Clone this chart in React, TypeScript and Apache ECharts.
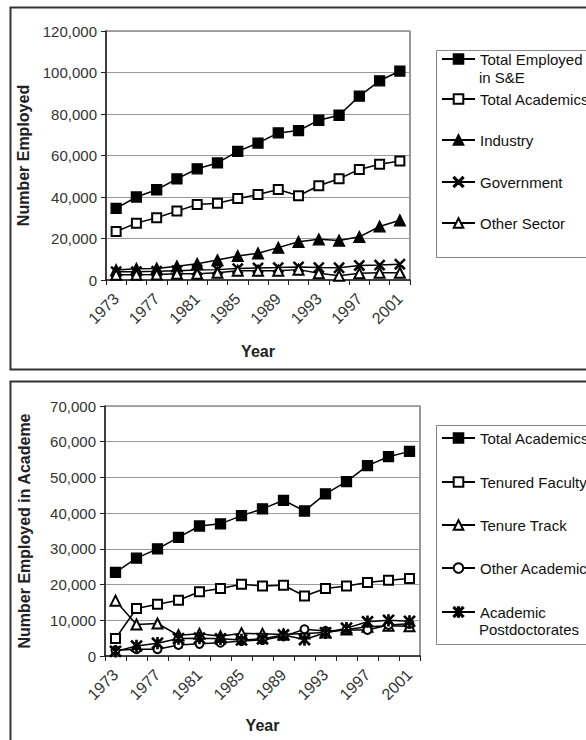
import React, { useEffect, useRef } from 'react';
import * as echarts from 'echarts';

// ---------- data ----------
const years = ['1973', '1975', '1977', '1979', '1981', '1983', '1985', '1987', '1989', '1991', '1993', '1995', '1997', '1999', '2001'];

// top panel: employment by sector
const totalSE = [34500, 40000, 43500, 48700, 53600, 56400, 62000, 66000, 70900, 72000, 77000, 79400, 88600, 96000, 100700];
const totalAcademics = [23400, 27400, 30000, 33200, 36400, 37000, 39300, 41200, 43600, 40600, 45400, 48800, 53300, 55800, 57300];
const industry = [4800, 5400, 5600, 6600, 7800, 9600, 11600, 12900, 15600, 18400, 19600, 19000, 20800, 25800, 28800];
const government = [4000, 4000, 4200, 4500, 4800, 5000, 5500, 5800, 6000, 6300, 6000, 5900, 7000, 7200, 7600];
const otherSector = [2500, 2500, 2600, 3000, 3000, 3500, 4500, 4500, 4500, 5000, 3200, 2000, 3200, 3500, 3500];

// bottom panel: academe
const tenuredFaculty = [4900, 13300, 14500, 15600, 18000, 18900, 20100, 19600, 19800, 16800, 18900, 19600, 20600, 21200, 21700];
const tenureTrack = [15500, 8800, 9100, 5800, 6200, 5500, 6400, 6200, 6000, 6300, 6600, 7400, 8200, 8500, 8300];
const otherAcademic = [1600, 1900, 1900, 3100, 3400, 3700, 4200, 4500, 5500, 7500, 7000, 7300, 7300, 8700, 9000];
const postdocs = [1300, 2800, 3600, 4900, 5000, 4800, 4500, 4800, 5900, 4600, 6500, 7800, 9600, 10000, 9700];

const topNames = ['Total Employed in S&E', 'Total Academics', 'Industry', 'Government', 'Other Sector'];
const bottomNames = ['Total Academics', 'Tenured Faculty', 'Tenure Track', 'Other Academic', 'Academic Postdoctorates'];

// ---------- styles ----------
const FONT = '"Liberation Sans", Arial, Helvetica, sans-serif';
const X_PATH = 'path://M1.85,0.15L19.85,18.15L18.15,19.85L0.15,1.85ZM19.85,1.85L1.85,19.85L0.15,18.15L18.15,0.15Z';
const STAR_PATH = 'path://M1.85,0.15L19.85,18.15L18.15,19.85L0.15,1.85ZM19.85,1.85L1.85,19.85L0.15,18.15L18.15,0.15ZM8.8,0L11.2,0L11.2,20L8.8,20Z';

function lineSeries(name: string, data: number[], symbol: string, size: number) {
  return {
    type: 'line',
    name,
    data,
    symbol,
    symbolSize: size,
    showAllSymbol: true,
    lineStyle: { color: '#000', width: 1.5 },
    itemStyle: { color: '#000', borderColor: '#000', borderWidth: 1.3 },
    emphasis: { disabled: true },
  };
}

function legendItem(name: string, cy: number, label: string) {
  return {
    data: [name],
    left: 441,
    top: cy - 8,
    orient: 'horizontal',
    padding: 0,
    itemWidth: 33,
    itemHeight: 12,
    selectedMode: false,
    formatter: () => label,
    textStyle: { fontSize: 15, lineHeight: 16, color: '#111', fontFamily: FONT },
  };
}

function fmt(v: number) {
  return v.toLocaleString('en-US');
}

function baseOption(cfg: {
  grid: any;
  yMax: number;
  yInterval: number;
  yName: string;
  yNameGap: number;
  xNameGap: number;
  series: any[];
  legends: any[];
  graphic: any[];
}) {
  return {
    animation: false,
    backgroundColor: '#fff',
    textStyle: { fontFamily: FONT },
    grid: { ...cfg.grid, show: true, borderColor: '#555', borderWidth: 1.2, containLabel: false },
    xAxis: {
      type: 'category',
      data: years,
      boundaryGap: true,
      name: 'Year',
      nameLocation: 'middle',
      nameGap: cfg.xNameGap,
      nameTextStyle: { fontSize: 16, fontWeight: 'bold', color: '#222', fontFamily: FONT },
      axisLine: { lineStyle: { color: '#222', width: 1.5 } },
      axisTick: { show: true, interval: 0, length: 5, lineStyle: { color: '#222' } },
      axisLabel: { interval: 1, rotate: 45, fontSize: 16, color: '#333', margin: 16, fontFamily: FONT },
      splitLine: { show: false },
    },
    yAxis: {
      type: 'value',
      min: 0,
      max: cfg.yMax,
      interval: cfg.yInterval,
      name: cfg.yName,
      nameLocation: 'middle',
      nameGap: cfg.yNameGap,
      nameTextStyle: { fontSize: 16, fontWeight: 'bold', color: '#222', fontFamily: FONT },
      axisLine: { show: true, lineStyle: { color: '#222', width: 1.5 } },
      axisTick: { show: true, length: 5, lineStyle: { color: '#222' } },
      axisLabel: { fontSize: 15, color: '#333', margin: 9, formatter: fmt, fontFamily: FONT },
      splitLine: { show: true, lineStyle: { color: '#999', width: 1 } },
    },
    legend: cfg.legends,
    series: cfg.series,
    graphic: cfg.graphic,
  };
}

function useChart(ref: React.RefObject<HTMLDivElement>, option: any) {
  useEffect(() => {
    if (!ref.current) return;
    const chart = echarts.init(ref.current, undefined, { renderer: 'svg' });
    chart.setOption(option);
    return () => chart.dispose();
  }, []);
}

export default function App() {
  const topRef = useRef<HTMLDivElement>(null);
  const botRef = useRef<HTMLDivElement>(null);

  const topOption = baseOption({
    grid: { left: 106, right: 176, top: 31, bottom: 92 },
    yMax: 120000,
    yInterval: 20000,
    yName: 'Number Employed',
    yNameGap: 73,
    xNameGap: 63,
    series: [
      lineSeries(topNames[0], totalSE, 'rect', 10),
      lineSeries(topNames[1], totalAcademics, 'emptyRect', 9),
      lineSeries(topNames[2], industry, 'triangle', 11),
      lineSeries(topNames[3], government, X_PATH, 10),
      lineSeries(topNames[4], otherSector, 'emptyTriangle', 10),
    ],
    legends: [
      legendItem(topNames[0], 59, 'Total Employed'),
      legendItem(topNames[1], 99, 'Total Academics'),
      legendItem(topNames[2], 140, 'Industry'),
      legendItem(topNames[3], 182, 'Government'),
      legendItem(topNames[4], 223, 'Other Sector'),
    ],
    graphic: [
      { type: 'rect', left: 8, top: 5, shape: { width: 620, height: 362 }, style: { fill: 'none', stroke: '#333', lineWidth: 2 }, silent: true, z: -1 },
      { type: 'rect', left: 434, top: 48, shape: { width: 200, height: 207 }, style: { fill: 'none', stroke: '#888', lineWidth: 1 }, silent: true },
      { type: 'text', left: 479, top: 70, style: { text: 'in S&E', fontSize: 15, fill: '#111', fontFamily: FONT } },
    ],
  });

  const botOption = baseOption({
    grid: { left: 105, right: 166, top: 34, bottom: 84 },
    yMax: 70000,
    yInterval: 10000,
    yName: 'Number Employed in Academe',
    yNameGap: 73,
    xNameGap: 61,
    series: [
      lineSeries(bottomNames[0], totalAcademics, 'rect', 10),
      lineSeries(bottomNames[1], tenuredFaculty, 'emptyRect', 9),
      lineSeries(bottomNames[2], tenureTrack, 'emptyTriangle', 10),
      lineSeries(bottomNames[3], otherAcademic, 'emptyCircle', 8),
      lineSeries(bottomNames[4], postdocs, STAR_PATH, 11),
    ],
    legends: [
      legendItem(bottomNames[0], 66, 'Total Academics'),
      legendItem(bottomNames[1], 110, 'Tenured Faculty'),
      legendItem(bottomNames[2], 153, 'Tenure Track'),
      legendItem(bottomNames[3], 196, 'Other Academic'),
      legendItem(bottomNames[4], 240, 'Academic'),
    ],
    graphic: [
      { type: 'rect', left: 8, top: 7, shape: { width: 620, height: 420 }, style: { fill: 'none', stroke: '#333', lineWidth: 2 }, silent: true, z: -1 },
      { type: 'rect', left: 434, top: 51, shape: { width: 200, height: 219 }, style: { fill: 'none', stroke: '#888', lineWidth: 1 }, silent: true },
      { type: 'text', left: 479, top: 250, style: { text: 'Postdoctorates', fontSize: 15, fill: '#111', fontFamily: FONT } },
    ],
  });

  useChart(topRef, topOption);
  useChart(botRef, botOption);

  return (
    <div style={{ position: 'absolute', left: 0, top: 0, width: 586, height: 740, background: '#fff', overflow: 'hidden' }}>
      <div ref={topRef} style={{ position: 'absolute', left: 0, top: 0, width: 586, height: 372 }} />
      <div ref={botRef} style={{ position: 'absolute', left: 0, top: 372, width: 586, height: 368 }} />
    </div>
  );
}
